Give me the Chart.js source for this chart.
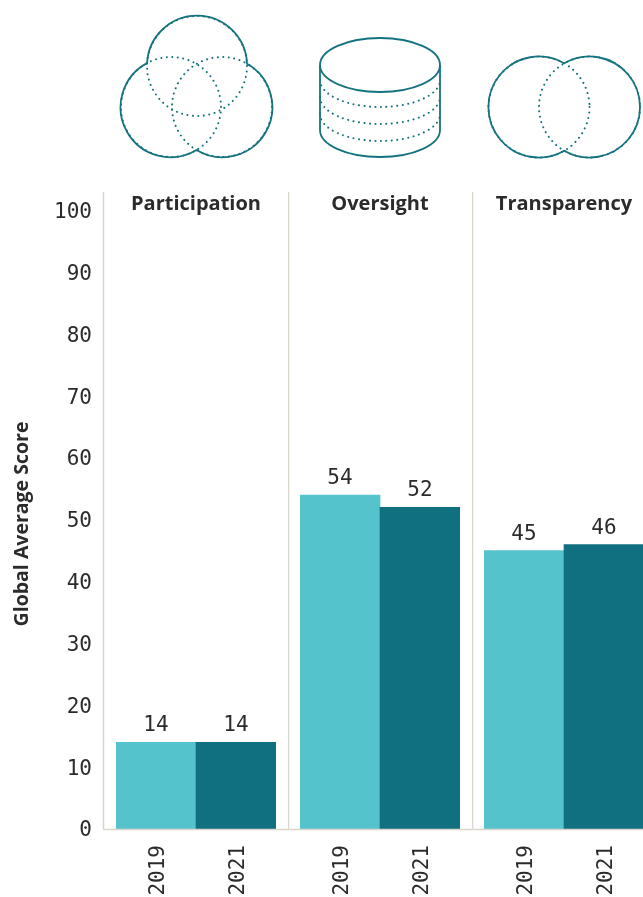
<!DOCTYPE html>
<html>
<head>
<meta charset="utf-8">
<script src="https://cdn.jsdelivr.net/npm/chart.js@4"></script>
<style>
  html, body { margin: 0; padding: 0; background: #fff; overflow: hidden; width: 643px; height: 897px; }
  body { position: relative; }
  canvas, svg { position: absolute; display: block; }
  svg { left: 0; top: 0; }
  .solid { fill: none; stroke: #15737f; stroke-width: 1.8; }
  .dots { fill: none; stroke: #15737f; stroke-width: 2; stroke-dasharray: 0.1 5.4; stroke-linecap: round; }
</style>
</head>
<body>
<svg width="643" height="185" viewBox="0 0 643 185">
  <!-- participation -->
  <circle class="dots" cx="197" cy="66" r="50"/>
  <circle class="dots" cx="171" cy="107" r="50"/>
  <circle class="dots" cx="222" cy="107" r="50"/>
  <path class="solid" d="M147.1 63.1 A50 50 0 0 1 247 63.7 A50 50 0 1 1 196.5 150 A50 50 0 1 1 147.1 63.1"/>
  <!-- oversight -->
  <path class="dots" d="M320 80 A60 27 0 0 0 440 80"/>
  <path class="dots" d="M320 97 A60 27 0 0 0 440 97"/>
  <path class="dots" d="M320 114 A60 27 0 0 0 440 114"/>
  <ellipse class="solid" cx="380" cy="65" rx="60" ry="27"/>
  <path class="solid" d="M320 65 V130 A60 27 0 0 0 440 130 V65"/>
  <!-- transparency -->
  <circle class="dots" cx="539" cy="107" r="50.5"/>
  <circle class="dots" cx="589.5" cy="107" r="50.5"/>
  <path class="solid" d="M564.2 63.3 A50.5 50.5 0 1 0 564.2 150.7 A50.5 50.5 0 1 0 564.2 63.3"/>
</svg>
<canvas id="panelParticipation" width="289" height="712" style="left:0;top:185px"></canvas>
<canvas id="panelOversight" width="184" height="712" style="left:288px;top:185px"></canvas>
<canvas id="panelTransparency" width="172" height="712" style="left:472px;top:185px"></canvas>
<script>
const years = ['2019', '2021'];
const participation = [14, 14];
const oversight = [54, 52];
const transparency = [45, 46];
const yTicks = [0, 10, 20, 30, 40, 50, 60, 70, 80, 90, 100];

const LIGHT = '#54c3cc';
const DARK = '#10707f';
const RULE = '#d9d6cc';
const INK = '#2b2b2b';
const MONO = '"DejaVu Sans Mono", monospace';
const SANS = '"Open Sans", sans-serif';

// separators, baseline, panel titles and value labels
const panelDecor = {
  id: 'panelDecor',
  afterDraw(chart, args, opts) {
    const { ctx, chartArea } = chart;
    const lineX = chartArea.left - opts.gap + 0.5;
    ctx.save();
    ctx.strokeStyle = RULE;
    ctx.lineWidth = 1.5;
    ctx.beginPath();
    ctx.moveTo(lineX, chartArea.top);
    ctx.lineTo(lineX, chartArea.bottom + 0.5);
    ctx.moveTo(lineX, chartArea.bottom + 0.5);
    ctx.lineTo(chart.width, chartArea.bottom + 0.5);
    ctx.stroke();

    ctx.textAlign = 'center';
    ctx.fillStyle = INK;
    ctx.font = 'bold 20px ' + SANS;
    ctx.fillText(opts.title, (chartArea.left + chartArea.right) / 2, chartArea.top + 18);

    ctx.font = '21px ' + MONO;
    const meta = chart.getDatasetMeta(0);
    meta.data.forEach((bar, i) => {
      ctx.fillText(chart.data.datasets[0].data[i], bar.x, bar.y - 11);
    });

    if (opts.yTitle) {
      ctx.translate(22, 339);
      ctx.rotate(-Math.PI / 2);
      ctx.font = 'bold 19.5px ' + SANS;
      ctx.textBaseline = 'middle';
      ctx.fillText(opts.yTitle, 0, 0);
    }
    ctx.restore();
  },
};

function createPanelChart(canvasId, title, values, layout) {
  return new Chart(document.getElementById(canvasId), {
    type: 'bar',
    plugins: [panelDecor],
    data: {
      labels: years,
      datasets: [{
        data: values,
        backgroundColor: [LIGHT, DARK],
        borderWidth: 0,
        barPercentage: 1,
        categoryPercentage: 1,
      }],
    },
    options: {
      responsive: false,
      animation: false,
      layout: { padding: { top: 7, left: layout.left, right: layout.right, bottom: 0 } },
      plugins: {
        legend: { display: false },
        tooltip: { enabled: false },
        panelDecor: { title, gap: layout.gap, yTitle: layout.yTitle },
      },
      scales: {
        x: {
          grid: { display: false },
          border: { display: false },
          ticks: {
            color: INK,
            font: { family: MONO, size: 21 },
            minRotation: 90,
            maxRotation: 90,
            padding: 8,
            labelOffset: 3,
          },
          afterFit: axis => {
            axis.height = 68;
            axis.paddingLeft = 0;
            axis.paddingRight = 0;
          },
        },
        y: {
          display: layout.showY,
          min: 0,
          max: 103,
          grid: { display: false },
          border: { display: false },
          ticks: {
            color: INK,
            font: { family: MONO, size: 21 },
            padding: 16,
            labelOffset: 2,
          },
          afterBuildTicks: axis => { axis.ticks = yTicks.map(value => ({ value })); },
          afterFit: axis => {
            if (layout.showY) axis.width = 116;
            axis.paddingTop = 0;
            axis.paddingBottom = 0;
          },
        },
      },
    },
  });
}

createPanelChart('panelParticipation', 'Participation', participation,
  { left: 0, right: 13, gap: 13, showY: true, yTitle: 'Global Average Score' });
createPanelChart('panelOversight', 'Oversight', oversight,
  { left: 12, right: 12, gap: 12, showY: false });
createPanelChart('panelTransparency', 'Transparency', transparency,
  { left: 12, right: 0, gap: 12, showY: false });
</script>
</body>
</html>
